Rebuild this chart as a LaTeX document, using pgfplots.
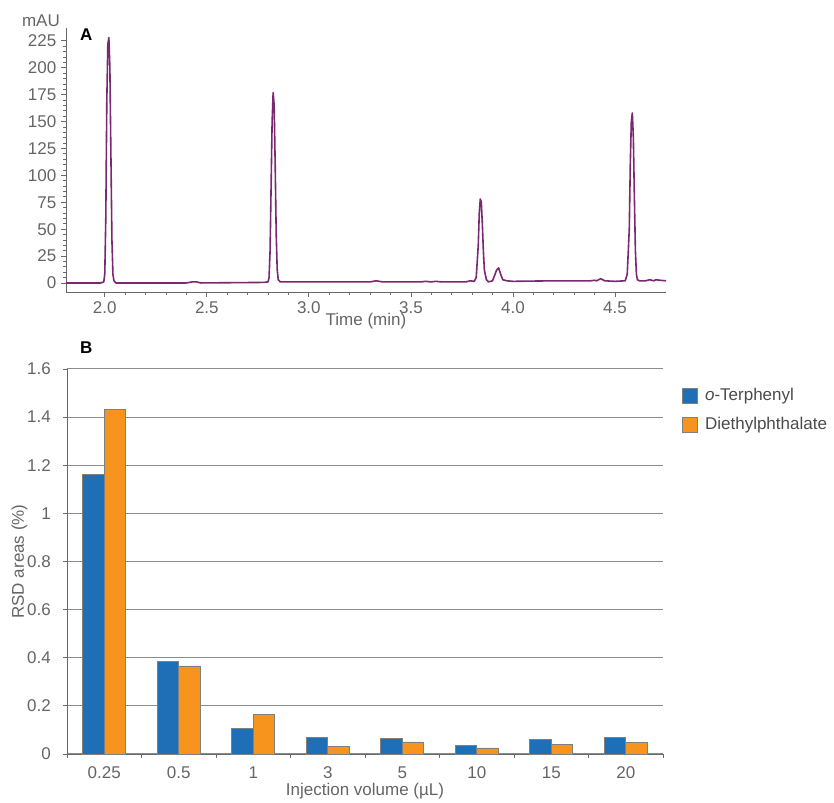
\documentclass[border=0pt]{standalone}
\usepackage{pgfplots}
\pgfplotsset{compat=1.18}
\usepackage{fontspec}
\setmainfont{Liberation Sans}
\definecolor{tickgray}{RGB}{100,101,104}
\definecolor{legendgray}{RGB}{75,75,77}
\definecolor{axgray}{RGB}{105,105,105}
\definecolor{gridgray}{RGB}{140,140,140}
\definecolor{chrom}{RGB}{122,40,112}
\definecolor{barblue}{RGB}{31,111,182}
\definecolor{barorange}{RGB}{247,148,30}
\newcommand\cf{\fontsize{17}{20}\selectfont}
\begin{document}
\cf
\begin{tikzpicture}[x=1pt,y=1pt]
\useasboundingbox (0,0) rectangle (834,802);
% ---------- A: chromatogram ----------
\begin{axis}[
 at={(66pt,510pt)}, anchor=south west,
 scale only axis, width=600pt, height=264pt,
 xmin=1.81, xmax=4.75, ymin=-8.4, ymax=237,
 clip=false,
 axis x line*=bottom, axis y line*=left,
 axis line style={draw=axgray, line width=0.9pt},
 tick style={draw=axgray, line width=0.8pt},
 tick align=outside,
 major tick length=5pt, minor tick length=3pt,
 xtick={2.0,2.5,3.0,3.5,4.0,4.5},
 minor x tick num=4,
 ytick={0,25,50,75,100,125,150,175,200,225},
 minor y tick num=4,
 /pgf/number format/assume math mode=true,
 tick label style={font=\cf, text=tickgray, inner sep=0pt},
 xticklabel style={anchor=center, yshift=-11pt, /pgf/number format/.cd, fixed, fixed zerofill, precision=1},
 yticklabel style={anchor=east, xshift=-4.5pt},
 xlabel={Time (min)},
 xlabel style={font=\cf, text=tickgray, at={(axis description cs:0.5,0)}, anchor=center, yshift=-29.5pt, inner sep=0pt},
]
\addplot[chrom, line width=1.6pt, line join=round] coordinates {
(1.81,0) (1.90,0) (1.98,0) (1.995,1) (2.000,8) (2.005,60) (2.010,170) (2.015,222) (2.020,228) (2.025,200) (2.030,120) (2.035,40) (2.040,8) (2.045,2) (2.055,0)
(2.10,0) (2.40,0) (2.43,1) (2.45,1) (2.47,0) (2.78,0.5) (2.80,1) (2.805,5) (2.81,30) (2.815,90) (2.82,150) (2.825,177) (2.83,165) (2.835,110) (2.84,45) (2.845,12) (2.85,3) (2.86,1)
(2.90,1) (3.30,1) (3.33,2) (3.36,1) (3.55,1) (3.57,1.5) (3.60,1) (3.62,1.5) (3.65,1) (3.77,1) (3.79,2) (3.81,1.5) (3.82,5) (3.83,35) (3.835,65) (3.84,78) (3.845,75) (3.85,55) (3.855,30) (3.86,12) (3.87,3) (3.88,1)
(3.90,2) (3.91,7) (3.92,12) (3.93,14) (3.94,8) (3.95,3) (3.97,2) (4.00,1.5) (4.20,2) (4.38,2) (4.40,2.5) (4.41,2) (4.43,4) (4.45,2) (4.50,1.5) (4.55,2)
(4.56,8) (4.57,50) (4.575,110) (4.58,150) (4.585,158) (4.59,135) (4.595,80) (4.60,30) (4.605,8) (4.61,3) (4.62,2) (4.65,2) (4.67,3) (4.69,2) (4.70,3) (4.72,2.5) (4.75,2)
};
\node[anchor=east, inner sep=0pt, text=tickgray, xshift=-6pt, yshift=7.3pt] at (rel axis cs:0,1) {mAU};
\node[anchor=north west, inner sep=0pt, font=\cf\bfseries, xshift=14pt, yshift=-1pt] at (rel axis cs:0,1) {A};
\end{axis}
% ---------- B: RSD bars ----------
\begin{axis}[
 at={(67pt,48pt)}, anchor=south west,
 scale only axis, width=596pt, height=385pt,
 xmin=-0.5, xmax=7.5, ymin=0, ymax=1.6,
 clip=false,
 ybar=0pt, bar width=21.5pt,
 axis x line*=bottom, axis y line*=left,
 axis line style={draw=axgray, line width=0.9pt},
 tick style={draw=axgray, line width=0.8pt},
 tick align=outside,
 xtick={0,1,2,3,4,5,6,7},
 xticklabels={0.25,0.5,1,3,5,10,15,20},
 major x tick style={draw=none},
 minor xtick={-0.5,0.5,1.5,2.5,3.5,4.5,5.5,6.5,7.5},
 minor tick length=4pt, major tick length=4pt,
 ytick={0,0.2,0.4,0.6,0.8,1,1.2,1.4,1.6},
 ymajorgrids, grid style={draw=gridgray, line width=1pt},
 /pgf/number format/assume math mode=true,
 tick label style={font=\cf, text=tickgray, inner sep=0pt},
 xticklabel style={anchor=center, yshift=-15pt},
 yticklabel style={anchor=east, xshift=-12pt},
 xlabel={Injection volume (µL)},
 xlabel style={font=\cf, text=tickgray, at={(axis description cs:0.5,0)}, anchor=center, yshift=-37pt, inner sep=0pt},
 ylabel={RSD areas (\%)},
 ylabel style={font=\cf, text=tickgray, at={(axis description cs:0,0.5)}, anchor=center, yshift=47.5pt, inner sep=0pt},
 legend style={at={(1.032,0.956)}, anchor=north west, draw=none, fill=none, inner sep=0pt, font=\cf, text=legendgray, row sep=10pt, /tikz/every odd column/.append style={column sep=5pt}},
 legend image code/.code={\draw[#1, draw=gray, line width=0.8pt] (0pt,-7.5pt) rectangle (15pt,7.5pt);},
 legend cell align=left,
]
\addplot[fill=barblue, draw=gray, line width=0.8pt] coordinates {(0,1.161) (1,0.386) (2,0.107) (3,0.069) (4,0.066) (5,0.037) (6,0.062) (7,0.069)};
\addplot[fill=barorange, draw=gray, line width=0.8pt] coordinates {(0,1.431) (1,0.366) (2,0.163) (3,0.032) (4,0.050) (5,0.025) (6,0.039) (7,0.047)};
\legend{\textit{o}-Terphenyl, Diethylphthalate}
\node[anchor=north west, inner sep=0pt, font=\cf\bfseries, xshift=13pt, yshift=27pt] at (rel axis cs:0,1) {B};
\end{axis}
\end{tikzpicture}
\end{document}
